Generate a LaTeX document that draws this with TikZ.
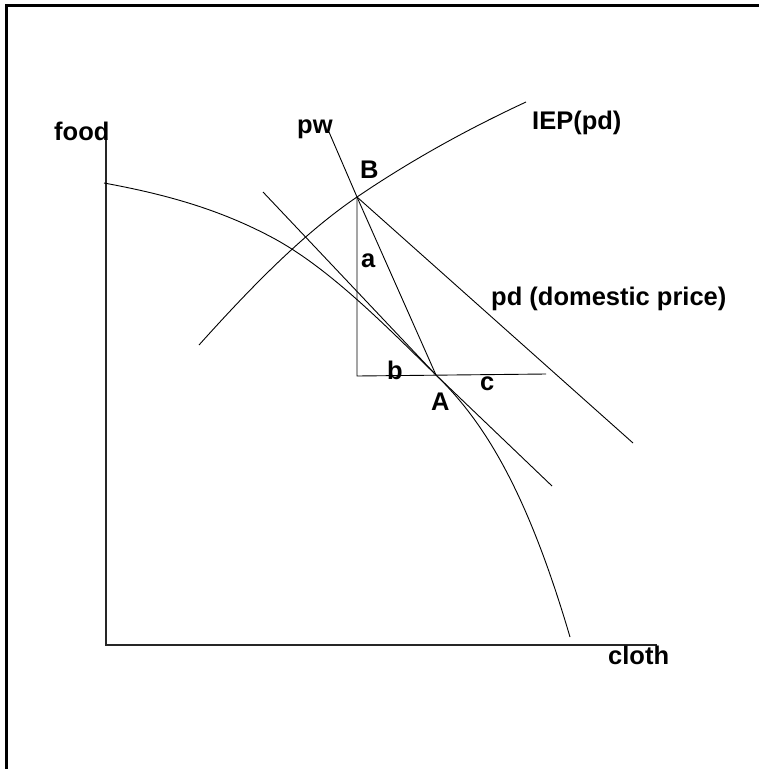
\documentclass[tikz,border=0pt]{standalone}
\usepackage{fontspec}
\setmainfont{Liberation Sans}
\begin{document}
\begin{tikzpicture}[x=1pt,y=-1pt,
  curve/.style={line width=0.9pt,black},
  axis/.style={line width=1.1pt,black!85},
  lbl/.style={anchor=base west,inner sep=0pt,font=\fontsize{25.5}{30}\selectfont\bfseries}]
\useasboundingbox (0,0) rectangle (759,769);
% frame (left and top)
\draw[line width=3pt] (6.5,769) -- (6.5,5.5) -- (759,5.5);
% axes
\coordinate (O) at (106,645);
\coordinate (Ytop) at (106,134);
\coordinate (Xend) at (657,645);
\draw[axis] (Ytop) -- (O) -- (Xend);
% key points
\coordinate (A) at (436,375);
\coordinate (B) at (357,197);
\coordinate (C) at (357,376);
\coordinate (Hend) at (546,374);
\coordinate (PWtop) at (329,132);
\coordinate (T1) at (263,192);
\coordinate (T2) at (552,486);
\coordinate (PDend) at (633,443);
\coordinate (F0) at (104,183);
\coordinate (F1) at (275,239);
\coordinate (F2) at (570,637);
\coordinate (I0) at (199,345);
\coordinate (I2) at (526,102);
% production possibility frontier
\draw[curve] (F0) .. controls (161,193.5) and (218,208) .. (F1)
  .. controls (329,268.7) and (382,322) .. (A)
  .. controls (481,419) and (525,484) .. (F2);
% IEP curve
\draw[curve] (I0) .. controls (252,286) and (304,233) .. (B)
  .. controls (413,159) and (470,128) .. (I2);
% price lines
\draw[curve] (PWtop) -- (B) -- (A);
\draw[curve] (T1) -- (A) -- (T2);
\draw[curve] (B) -- (PDend);
% trade triangle
\draw[curve] (B) -- (C) -- (Hend);
% labels
\node[lbl] (food) at (54,140) {food};
\node[lbl] (cloth) at (608,664) {cloth};
\node[lbl] (pw) at (297,133) {pw};
\node[lbl] (iep) at (532,129) {IEP(pd)};
\node[lbl] (pd) at (491,305) {pd (domestic price)};
\node[lbl] (Bl) at (360,178) {B};
\node[lbl] (al) at (361,267) {a};
\node[lbl] (bl) at (387,379) {b};
\node[lbl] (cl) at (480,390) {c};
\node[lbl] (Al) at (431,410) {A};
\end{tikzpicture}
\end{document}
